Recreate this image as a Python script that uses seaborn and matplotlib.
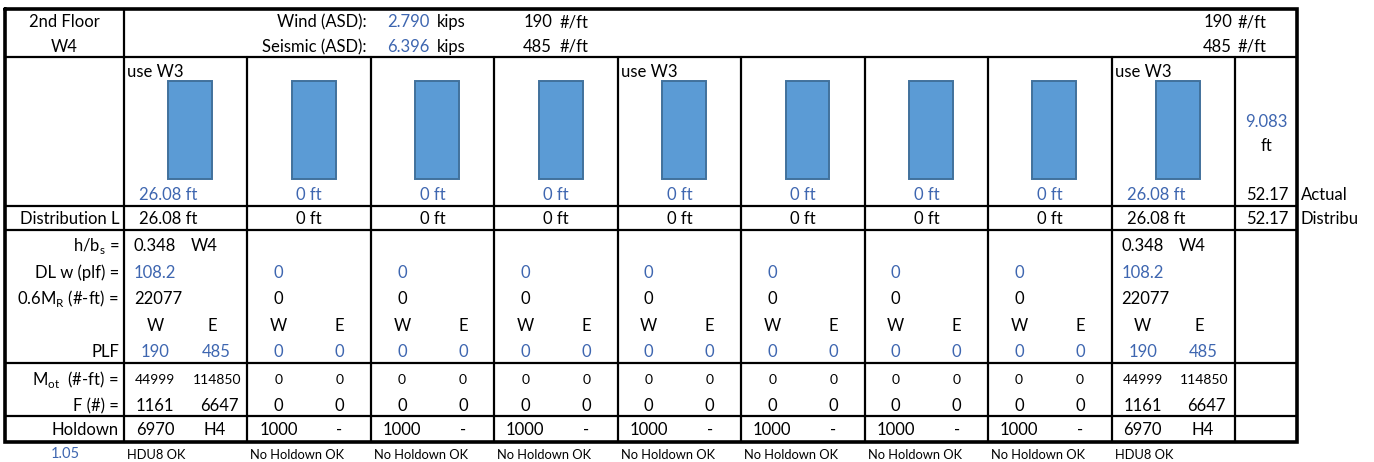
import numpy as np
import pandas as pd
import matplotlib.pyplot as plt
import seaborn as sns

# Shear wall summary, 2nd floor line W4
wind_kips = 2.790
seismic_kips = 6.396
wind_plf = 190
seismic_plf = 485
total_length = 52.17
wall_height = 9.083
ratio = 1.05

segments = ["S1", "S2", "S3", "S4", "S5", "S6", "S7", "S8", "S9"]
wall_heights = [9.083, 9.083, 9.083, 9.083, 9.083, 9.083, 9.083, 9.083, 9.083]
wall_lengths = [26.08, 0, 0, 0, 0, 0, 0, 0, 26.08]
notes = ["use W3", "", "", "", "use W3", "", "", "", "use W3"]
hb_ratio = ["0.348", "", "", "", "", "", "", "", "0.348"]
dl_w = [108.2, 0, 0, 0, 0, 0, 0, 0, 108.2]
resist_m = [22077, 0, 0, 0, 0, 0, 0, 0, 22077]
plf_w = [190, 0, 0, 0, 0, 0, 0, 0, 190]
plf_e = [485, 0, 0, 0, 0, 0, 0, 0, 485]
mot_w = [44999, 0, 0, 0, 0, 0, 0, 0, 44999]
mot_e = [114850, 0, 0, 0, 0, 0, 0, 0, 114850]
force_w = [1161, 0, 0, 0, 0, 0, 0, 0, 1161]
force_e = [6647, 0, 0, 0, 0, 0, 0, 0, 6647]
holdown_cap = [6970, 1000, 1000, 1000, 1000, 1000, 1000, 1000, 6970]
holdown_type = ["H4", "-", "-", "-", "-", "-", "-", "-", "H4"]
status = ["HDU8 OK"] + ["No Holdown OK"] * 7 + ["HDU8 OK"]

sns.set_style("white")
plt.rcParams['font.family'] = ['Lato', 'DejaVu Sans']
plt.rcParams['mathtext.fontset'] = 'custom'
plt.rcParams['mathtext.rm'] = 'Lato'

BLUE = "#3E66B0"
BLACK = "#000000"
W, H = 1374, 462

fig = plt.figure(figsize=(W / 100, H / 100), dpi=100)
ax = fig.add_axes([0, 0, 1, 1])
ax.set_xlim(0, W)
ax.set_ylim(H, 0)
ax.axis("off")


def put(x, y, s, ha="left", color=BLACK, size=12):
    cap = size * 100 / 72 * 0.72
    ax.text(x, y + cap / 2, s, ha=ha, va="baseline", color=color, fontsize=size)


# grid
left, right, top, bottom = 5, 1297, 9, 442
edges = np.linspace(124, 1235, 10)
thin = 1.6
ax.plot([left, right, right, left, left], [top, top, bottom, bottom, top],
        color=BLACK, lw=2.6, solid_joinstyle="miter")
for y in [57, 206, 230, 363, 416]:
    ax.plot([left, right], [y, y], color=BLACK, lw=thin)
ax.plot([124, 124], [top, bottom], color=BLACK, lw=thin)
for x in edges[1:]:
    ax.plot([x, x], [57, bottom], color=BLACK, lw=thin)

# bars for wall segments
bax = fig.add_axes([124 / W, 1 - 179 / H, (1235 - 124) / W, 98 / H])
df = pd.DataFrame({"segment": segments, "height": wall_heights})
sns.barplot(data=df, x="segment", y="height", ax=bax, color="#5B9BD5",
            edgecolor="#41719C", linewidth=1.4, width=0.355, saturation=1)
bax.set_xlim(-0.537, 8.463)
bax.set_ylim(0, wall_height)
bax.axis("off")
for p in bax.patches:
    p.set_clip_on(False)

# header
put(64, 21, "2nd Floor", ha="center")
put(64, 46, "W4", ha="center")
put(367, 21, "Wind (ASD):", ha="right")
put(430, 21, f"{wind_kips:.3f}", ha="right", color=BLUE)
put(437, 21, "kips")
put(552, 21, f"{wind_plf}", ha="right")
put(560, 21, "#/ft")
put(367, 46, "Seismic (ASD):", ha="right")
put(430, 46, f"{seismic_kips:.3f}", ha="right", color=BLUE)
put(437, 46, "kips")
put(552, 46, f"{seismic_plf}", ha="right")
put(560, 46, "#/ft")
put(1232, 21, f"{wind_plf}", ha="right")
put(1238, 21, "#/ft")
put(1232, 46, f"{seismic_plf}", ha="right")
put(1238, 46, "#/ft")

# row labels
put(119, 218, "Distribution L", ha="right")
put(119, 245, r"h/b$_\mathrm{s}$ =", ha="right")
put(119, 272, "DL w (plf) =", ha="right")
put(119, 298, r"0.6M$_\mathrm{R}$ (#-ft) =", ha="right")
put(119, 351, "PLF", ha="right")
put(119, 379, r"M$_\mathrm{ot}$  (#-ft) =", ha="right")
put(119, 405, "F (#) =", ha="right")
put(119, 429, "Holdown", ha="right")
put(65, 453, f"{ratio}", ha="center", color=BLUE, size=10.5)

# total column
put(1266, 121, f"{wall_height}", ha="center", color=BLUE)
put(1266, 145, "ft", ha="center")
put(1288, 194, f"{total_length}", ha="right")
put(1301, 194, "Actual")
put(1288, 218, f"{total_length}", ha="right")
put(1301, 218, "Distribu")

for i in range(9):
    c = edges[i]
    cw, ce = c + 31, c + 92
    mid = c + 61.7
    if notes[i]:
        put(c + 3, 71, notes[i], size=12)
    L = wall_lengths[i]
    if L:
        put(c + 15, 194, f"{L:.2f} ft", color=BLUE)
        put(c + 15, 218, f"{L:.2f} ft")
    else:
        put(mid, 194, "0 ft", ha="center", color=BLUE)
        put(mid, 218, "0 ft", ha="center")
    if hb_ratio[i]:
        put(c + 10, 245, hb_ratio[i])
        put(c + 67, 245, "W4")
    if dl_w[i]:
        put(c + 10, 272, f"{dl_w[i]}", color=BLUE)
        put(c + 10, 298, f"{resist_m[i]}")
    else:
        put(cw, 272, "0", ha="center", color=BLUE)
        put(cw, 298, "0", ha="center")
    put(cw, 325, "W", ha="center")
    put(ce - 4 if L else ce, 325, "E", ha="center")
    put(cw, 351, f"{plf_w[i]}", ha="center", color=BLUE)
    put(ce, 351, f"{plf_e[i]}", ha="center", color=BLUE)
    put(cw, 379, f"{mot_w[i]}", ha="center", size=10)
    put(ce + 1 if L else ce, 379, f"{mot_e[i]}", ha="center", size=10)
    put(cw, 405, f"{force_w[i]}", ha="center")
    put(ce + 3 if L else ce, 405, f"{force_e[i]}", ha="center")
    put(cw, 429, f"{holdown_cap[i]}", ha="center")
    put(ce - 1 if L else ce, 429, holdown_type[i], ha="center")
    put(c + 3, 454, status[i], size=9.3)

fig.savefig("out.png", dpi=100)
